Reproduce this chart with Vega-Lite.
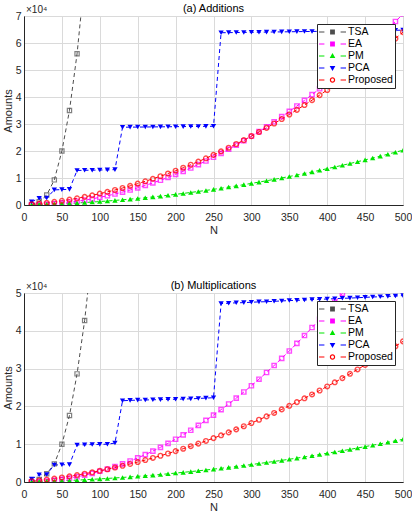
{
  "$schema": "https://vega.github.io/schema/vega-lite/v6.json",
  "padding": {"left": 1, "top": 2, "right": 10, "bottom": 2},
  "spacing": 43,
  "config": {
    "font": "Liberation Sans",
    "view": {"stroke": "#262626", "strokeWidth": 1},
    "axis": {"labelFont": "Liberation Sans", "labelFontSize": 10.5, "labelColor": "#262626", "titleFont": "Liberation Sans", "titleFontSize": 11, "titleFontWeight": "normal", "titleColor": "#262626", "domainColor": "#262626", "ticks": false, "grid": true, "gridColor": "#dadada", "gridOpacity": 1, "labelOverlap": false, "labelFlush": false, "tickCount": 20},
    "title": {"font": "Liberation Sans", "fontSize": 11, "fontWeight": "normal", "color": "#000000", "offset": -9},
    "legend": {"orient": "top-right", "offset": 8, "strokeColor": "#262626", "fillColor": "#ffffff", "padding": 2, "labelFont": "Liberation Sans", "labelFontSize": 10.5, "labelColor": "#000000", "symbolSize": 144, "symbolStrokeWidth": 0, "symbolOpacity": 1, "rowPadding": 0, "labelOffset": 17}
  },
  "data": {"values": [
    {"N":10,"method":"TSA","add":150,"mul":80},{"N":10,"method":"EA","add":28,"mul":28},{"N":10,"method":"PM","add":65,"mul":50},{"N":10,"method":"PCA","add":1200,"mul":800},{"N":10,"method":"Proposed","add":227,"mul":195},
    {"N":20,"method":"TSA","add":1200,"mul":650},{"N":20,"method":"EA","add":113,"mul":113},{"N":20,"method":"PM","add":144,"mul":106},{"N":20,"method":"PCA","add":2500,"mul":1900},{"N":20,"method":"Proposed","add":496,"mul":413},
    {"N":30,"method":"TSA","add":3700,"mul":2200},{"N":30,"method":"EA","add":255,"mul":255},{"N":30,"method":"PM","add":237,"mul":170},{"N":30,"method":"PCA","add":2600,"mul":2000},{"N":30,"method":"Proposed","add":810,"mul":653},
    {"N":40,"method":"TSA","add":9300,"mul":4800},{"N":40,"method":"EA","add":453,"mul":453},{"N":40,"method":"PM","add":343,"mul":242},{"N":40,"method":"PCA","add":5600,"mul":4500},{"N":40,"method":"Proposed","add":1164,"mul":915},
    {"N":50,"method":"TSA","add":20000,"mul":10000},{"N":50,"method":"EA","add":708,"mul":708},{"N":50,"method":"PM","add":464,"mul":320},{"N":50,"method":"PCA","add":5700,"mul":4550},{"N":50,"method":"Proposed","add":1563,"mul":1200},
    {"N":60,"method":"TSA","add":35000,"mul":17600},{"N":60,"method":"EA","add":1019,"mul":1019},{"N":60,"method":"PM","add":599,"mul":406},{"N":60,"method":"PCA","add":5800,"mul":4600},{"N":60,"method":"Proposed","add":2004,"mul":1507},
    {"N":70,"method":"TSA","add":56000,"mul":28600},{"N":70,"method":"EA","add":1387,"mul":1387},{"N":70,"method":"PM","add":747,"mul":498},{"N":70,"method":"PCA","add":12800,"mul":9800},{"N":70,"method":"Proposed","add":2489,"mul":1837},
    {"N":80,"method":"TSA","add":84000,"mul":42700},{"N":80,"method":"EA","add":1811,"mul":1811},{"N":80,"method":"PM","add":909,"mul":598},{"N":80,"method":"PCA","add":12850,"mul":9850},{"N":80,"method":"Proposed","add":3016,"mul":2189},
    {"N":90,"method":"TSA","add":null,"mul":61000},{"N":90,"method":"EA","add":2292,"mul":2292},{"N":90,"method":"PM","add":1086,"mul":706},{"N":90,"method":"PCA","add":12900,"mul":9900},{"N":90,"method":"Proposed","add":3587,"mul":2563},
    {"N":100,"method":"EA","add":2830,"mul":2830},{"N":100,"method":"PM","add":1276,"mul":820},{"N":100,"method":"PCA","add":12950,"mul":9950},{"N":100,"method":"Proposed","add":4200,"mul":2960},
    {"N":110,"method":"EA","add":3424,"mul":3424},{"N":110,"method":"PM","add":1480,"mul":942},{"N":110,"method":"PCA","add":13000,"mul":10000},{"N":110,"method":"Proposed","add":4857,"mul":3379},
    {"N":120,"method":"EA","add":4075,"mul":4075},{"N":120,"method":"PM","add":1698,"mul":1070},{"N":120,"method":"PCA","add":13100,"mul":10300},{"N":120,"method":"Proposed","add":5556,"mul":3821},
    {"N":130,"method":"EA","add":4783,"mul":4783},{"N":130,"method":"PM","add":1930,"mul":1206},{"N":130,"method":"PCA","add":28800,"mul":21500},{"N":130,"method":"Proposed","add":6299,"mul":4285},
    {"N":140,"method":"EA","add":5547,"mul":5547},{"N":140,"method":"PM","add":2176,"mul":1350},{"N":140,"method":"PCA","add":28830,"mul":21600},{"N":140,"method":"Proposed","add":7084,"mul":4771},
    {"N":150,"method":"EA","add":6368,"mul":6368},{"N":150,"method":"PM","add":2436,"mul":1500},{"N":150,"method":"PCA","add":28860,"mul":21650},{"N":150,"method":"Proposed","add":7913,"mul":5280},
    {"N":160,"method":"EA","add":7245,"mul":7245},{"N":160,"method":"PM","add":2710,"mul":1658},{"N":160,"method":"PCA","add":28890,"mul":21700},{"N":160,"method":"Proposed","add":8784,"mul":5811},
    {"N":170,"method":"EA","add":8179,"mul":8179},{"N":170,"method":"PM","add":2997,"mul":1822},{"N":170,"method":"PCA","add":28920,"mul":21750},{"N":170,"method":"Proposed","add":9699,"mul":6365},
    {"N":180,"method":"EA","add":9169,"mul":9169},{"N":180,"method":"PM","add":3299,"mul":1994},{"N":180,"method":"PCA","add":28950,"mul":21800},{"N":180,"method":"Proposed","add":10656,"mul":6941},
    {"N":190,"method":"EA","add":10216,"mul":10216},{"N":190,"method":"PM","add":3615,"mul":2174},{"N":190,"method":"PCA","add":28980,"mul":21850},{"N":190,"method":"Proposed","add":11657,"mul":7539},
    {"N":200,"method":"EA","add":11320,"mul":11320},{"N":200,"method":"PM","add":3944,"mul":2360},{"N":200,"method":"PCA","add":29010,"mul":21900},{"N":200,"method":"Proposed","add":12700,"mul":8160},
    {"N":210,"method":"EA","add":12480,"mul":12480},{"N":210,"method":"PM","add":4287,"mul":2554},{"N":210,"method":"PCA","add":29040,"mul":21950},{"N":210,"method":"Proposed","add":13787,"mul":8803},
    {"N":220,"method":"EA","add":13697,"mul":13697},{"N":220,"method":"PM","add":4645,"mul":2754},{"N":220,"method":"PCA","add":29070,"mul":22000},{"N":220,"method":"Proposed","add":14916,"mul":9469},
    {"N":230,"method":"EA","add":14971,"mul":14971},{"N":230,"method":"PM","add":5016,"mul":2962},{"N":230,"method":"PCA","add":29100,"mul":22100},{"N":230,"method":"Proposed","add":16089,"mul":10157},
    {"N":240,"method":"EA","add":16301,"mul":16301},{"N":240,"method":"PM","add":5401,"mul":3178},{"N":240,"method":"PCA","add":29130,"mul":22200},{"N":240,"method":"Proposed","add":17304,"mul":10867},
    {"N":250,"method":"EA","add":17688,"mul":17688},{"N":250,"method":"PM","add":5800,"mul":3400},{"N":250,"method":"PCA","add":29160,"mul":22300},{"N":250,"method":"Proposed","add":18563,"mul":11600},
    {"N":260,"method":"EA","add":19131,"mul":19131},{"N":260,"method":"PM","add":6213,"mul":3630},{"N":260,"method":"PCA","add":63800,"mul":47200},{"N":260,"method":"Proposed","add":19864,"mul":12355},
    {"N":270,"method":"EA","add":20631,"mul":20631},{"N":270,"method":"PM","add":6640,"mul":3866},{"N":270,"method":"PCA","add":63840,"mul":47300},{"N":270,"method":"Proposed","add":21209,"mul":13133},
    {"N":280,"method":"EA","add":22187,"mul":22187},{"N":280,"method":"PM","add":7081,"mul":4110},{"N":280,"method":"PCA","add":63880,"mul":47400},{"N":280,"method":"Proposed","add":22596,"mul":13933},
    {"N":290,"method":"EA","add":23800,"mul":23800},{"N":290,"method":"PM","add":7535,"mul":4362},{"N":290,"method":"PCA","add":63920,"mul":47450},{"N":290,"method":"Proposed","add":24027,"mul":14755},
    {"N":300,"method":"EA","add":25470,"mul":25470},{"N":300,"method":"PM","add":8004,"mul":4620},{"N":300,"method":"PCA","add":63960,"mul":47550},{"N":300,"method":"Proposed","add":25500,"mul":15600},
    {"N":310,"method":"EA","add":27196,"mul":27196},{"N":310,"method":"PM","add":8487,"mul":4886},{"N":310,"method":"PCA","add":64000,"mul":47650},{"N":310,"method":"Proposed","add":27017,"mul":16467},
    {"N":320,"method":"EA","add":28979,"mul":28979},{"N":320,"method":"PM","add":8983,"mul":5158},{"N":320,"method":"PCA","add":64040,"mul":47700},{"N":320,"method":"Proposed","add":28576,"mul":17357},
    {"N":330,"method":"EA","add":30819,"mul":30819},{"N":330,"method":"PM","add":9493,"mul":5438},{"N":330,"method":"PCA","add":64080,"mul":47800},{"N":330,"method":"Proposed","add":30179,"mul":18269},
    {"N":340,"method":"EA","add":32715,"mul":32715},{"N":340,"method":"PM","add":10018,"mul":5726},{"N":340,"method":"PCA","add":64120,"mul":47900},{"N":340,"method":"Proposed","add":31824,"mul":19203},
    {"N":350,"method":"EA","add":34668,"mul":34668},{"N":350,"method":"PM","add":10556,"mul":6020},{"N":350,"method":"PCA","add":64160,"mul":48000},{"N":350,"method":"Proposed","add":33513,"mul":20160},
    {"N":360,"method":"EA","add":36677,"mul":36677},{"N":360,"method":"PM","add":11108,"mul":6322},{"N":360,"method":"PCA","add":64200,"mul":48050},{"N":360,"method":"Proposed","add":35244,"mul":21139},
    {"N":370,"method":"EA","add":38743,"mul":38743},{"N":370,"method":"PM","add":11674,"mul":6630},{"N":370,"method":"PCA","add":64240,"mul":48150},{"N":370,"method":"Proposed","add":37019,"mul":22141},
    {"N":380,"method":"EA","add":40865,"mul":40865},{"N":380,"method":"PM","add":12254,"mul":6946},{"N":380,"method":"PCA","add":64280,"mul":48250},{"N":380,"method":"Proposed","add":38836,"mul":23165},
    {"N":390,"method":"EA","add":43044,"mul":43044},{"N":390,"method":"PM","add":12848,"mul":7270},{"N":390,"method":"PCA","add":64320,"mul":48350},{"N":390,"method":"Proposed","add":40697,"mul":24211},
    {"N":400,"method":"EA","add":45280,"mul":45280},{"N":400,"method":"PM","add":13456,"mul":7600},{"N":400,"method":"PCA","add":64360,"mul":48400},{"N":400,"method":"Proposed","add":42600,"mul":25280},
    {"N":410,"method":"EA","add":47572,"mul":47572},{"N":410,"method":"PM","add":14078,"mul":7938},{"N":410,"method":"PCA","add":64400,"mul":48500},{"N":410,"method":"Proposed","add":44547,"mul":26371},
    {"N":420,"method":"EA","add":49921,"mul":49921},{"N":420,"method":"PM","add":14713,"mul":8282},{"N":420,"method":"PCA","add":64440,"mul":48600},{"N":420,"method":"Proposed","add":46536,"mul":27485},
    {"N":430,"method":"EA","add":52327,"mul":52327},{"N":430,"method":"PM","add":15363,"mul":8634},{"N":430,"method":"PCA","add":64480,"mul":48650},{"N":430,"method":"Proposed","add":48569,"mul":28621},
    {"N":440,"method":"EA","add":54789,"mul":54789},{"N":440,"method":"PM","add":16026,"mul":8994},{"N":440,"method":"PCA","add":64520,"mul":48750},{"N":440,"method":"Proposed","add":50644,"mul":29779},
    {"N":450,"method":"EA","add":57308,"mul":57308},{"N":450,"method":"PM","add":16704,"mul":9360},{"N":450,"method":"PCA","add":64560,"mul":48850},{"N":450,"method":"Proposed","add":52763,"mul":30960},
    {"N":460,"method":"EA","add":59883,"mul":59883},{"N":460,"method":"PM","add":17395,"mul":9734},{"N":460,"method":"PCA","add":64600,"mul":48950},{"N":460,"method":"Proposed","add":54924,"mul":32163},
    {"N":470,"method":"EA","add":62515,"mul":62515},{"N":470,"method":"PM","add":18101,"mul":10114},{"N":470,"method":"PCA","add":64640,"mul":49000},{"N":470,"method":"Proposed","add":57129,"mul":33389},
    {"N":480,"method":"EA","add":65203,"mul":65203},{"N":480,"method":"PM","add":18820,"mul":10502},{"N":480,"method":"PCA","add":64680,"mul":49100},{"N":480,"method":"Proposed","add":59376,"mul":34637},
    {"N":490,"method":"EA","add":67948,"mul":67948},{"N":490,"method":"PM","add":19553,"mul":10898},{"N":490,"method":"PCA","add":64720,"mul":49200},{"N":490,"method":"Proposed","add":61667,"mul":35907},
    {"N":500,"method":"EA","add":70750,"mul":70750},{"N":500,"method":"PM","add":20300,"mul":11300},{"N":500,"method":"PCA","add":64760,"mul":49300},{"N":500,"method":"Proposed","add":64000,"mul":37200}
  ]},
  "vconcat": [
    {
      "width": 379, "height": 189,
      "title": {"text": "(a) Additions"},
      "layer": [
        {
          "encoding": {
            "x": {"field": "N", "type": "quantitative", "scale": {"domain": [0, 500], "nice": false}, "axis": {"values": [0,50,100,150,200,250,300,350,400,450,500], "tickCount": 20, "title": "N", "titlePadding": 2, "labelPadding": 7, "grid": true, "labelOverlap": false, "labelFlush": false}},
            "y": {"field": "add", "type": "quantitative", "scale": {"domain": [0, 70000], "nice": false}, "axis": {"values": [0,10000,20000,30000,40000,50000,60000,70000], "tickCount": 20, "labelExpr": "datum.value / 10000", "title": "Amounts", "titlePadding": 2, "labelPadding": 3, "grid": true, "labelOverlap": false, "labelFlush": false}}
          },
          "layer": [
            {
              "mark": {"type": "line", "strokeDash": [4, 3], "strokeWidth": 1, "clip": true},
              "encoding": {
                "stroke": {"field": "method", "type": "nominal", "scale": {"domain": ["Proposed","PCA","PM","EA","TSA"], "range": ["#ff0000","#0000ff","#00e600","#ff00ff","#4d4d4d"]}, "legend": null}
              }
            },
            {"transform": [{"filter": "datum.method === 'TSA'"}], "mark": {"type": "point", "shape": "square", "filled": false, "size": 18, "strokeWidth": 1.2, "color": "#4d4d4d", "clip": true}},
            {"transform": [{"filter": "datum.method === 'EA'"}], "mark": {"type": "point", "shape": "square", "filled": false, "size": 18, "strokeWidth": 1.4, "color": "#ff00ff", "clip": true}},
            {"transform": [{"filter": "datum.method === 'PM'"}], "mark": {"type": "point", "shape": "triangle-up", "filled": true, "size": 28, "opacity": 1, "color": "#00e600", "clip": true}},
            {"transform": [{"filter": "datum.method === 'PCA'"}], "mark": {"type": "point", "shape": "triangle-down", "filled": true, "size": 28, "opacity": 1, "color": "#0000ff", "clip": true}},
            {"transform": [{"filter": "datum.method === 'Proposed'"}], "mark": {"type": "point", "shape": "circle", "filled": false, "size": 22, "strokeWidth": 1.4, "color": "#ff0000", "clip": true}},
            {
              "transform": [{"filter": "datum.N < 0"}],
              "mark": {"type": "point", "filled": true, "clip": true},
              "encoding": {
                "color": {"field": "method", "type": "nominal", "scale": {"domain": ["TSA","EA","PM","PCA","Proposed"], "range": ["#4d4d4d","#ff00ff","#00e600","#0000ff","#ff0000"]}, "legend": {"title": null}},
                "shape": {"field": "method", "type": "nominal", "scale": {"domain": ["TSA","EA","PM","PCA","Proposed"], "range": [
                  "M-1,-0.09H-0.1V0.09H-1Z M2.6,-0.09H3.5V0.09H2.6Z M0.85,-0.4H1.65V0.4H0.85Z",
                  "M-1,-0.09H-0.1V0.09H-1Z M2.6,-0.09H3.5V0.09H2.6Z M0.85,-0.4H1.65V0.4H0.85Z",
                  "M-1,-0.09H-0.1V0.09H-1Z M2.6,-0.09H3.5V0.09H2.6Z M1.25,-0.5L1.72,0.35L0.78,0.35Z",
                  "M-1,-0.09H-0.1V0.09H-1Z M2.6,-0.09H3.5V0.09H2.6Z M1.25,0.5L1.72,-0.35L0.78,-0.35Z",
                  "M-1,-0.09H-0.1V0.09H-1Z M2.6,-0.09H3.5V0.09H2.6Z M1.7,0A0.45,0.45 0 1,1 0.8,0A0.45,0.45 0 1,1 1.7,0Z M1.5,0A0.25,0.25 0 1,0 1,0A0.25,0.25 0 1,0 1.5,0Z"
                ]}, "legend": {"title": null}}
              }
            }
          ]
        },
        {
          "data": {"values": [{}]},
          "mark": {"type": "text", "text": "×10⁴", "align": "left", "baseline": "bottom", "dx": 2, "dy": -1, "fontSize": 10, "color": "#262626", "font": "Liberation Sans"},
          "encoding": {
            "x": {"datum": 0, "type": "quantitative", "axis": {"values": [0,50,100,150,200,250,300,350,400,450,500], "tickCount": 20, "title": "N", "titlePadding": 2, "labelPadding": 7, "grid": true, "labelOverlap": false, "labelFlush": false}},
            "y": {"datum": 70000, "type": "quantitative", "axis": {"values": [0,10000,20000,30000,40000,50000,60000,70000], "tickCount": 20, "labelExpr": "datum.value / 10000", "title": "Amounts", "titlePadding": 2, "labelPadding": 3, "grid": true, "labelOverlap": false, "labelFlush": false}}
          }
        }
      ]
    },
    {
      "width": 379, "height": 189,
      "title": {"text": "(b) Multiplications"},
      "layer": [
        {
          "encoding": {
            "x": {"field": "N", "type": "quantitative", "scale": {"domain": [0, 500], "nice": false}, "axis": {"values": [0,50,100,150,200,250,300,350,400,450,500], "tickCount": 20, "title": "N", "titlePadding": 2, "labelPadding": 7, "grid": true, "labelOverlap": false, "labelFlush": false}},
            "y": {"field": "mul", "type": "quantitative", "scale": {"domain": [0, 50000], "nice": false}, "axis": {"values": [0,10000,20000,30000,40000,50000], "tickCount": 20, "labelExpr": "datum.value / 10000", "title": "Amounts", "titlePadding": 2, "labelPadding": 3, "grid": true, "labelOverlap": false, "labelFlush": false}}
          },
          "layer": [
            {
              "mark": {"type": "line", "strokeDash": [4, 3], "strokeWidth": 1, "clip": true},
              "encoding": {
                "stroke": {"field": "method", "type": "nominal", "scale": {"domain": ["Proposed","PCA","PM","EA","TSA"], "range": ["#ff0000","#0000ff","#00e600","#ff00ff","#4d4d4d"]}, "legend": null}
              }
            },
            {"transform": [{"filter": "datum.method === 'TSA'"}], "mark": {"type": "point", "shape": "square", "filled": false, "size": 18, "strokeWidth": 1.2, "color": "#4d4d4d", "clip": true}},
            {"transform": [{"filter": "datum.method === 'EA'"}], "mark": {"type": "point", "shape": "square", "filled": false, "size": 18, "strokeWidth": 1.4, "color": "#ff00ff", "clip": true}},
            {"transform": [{"filter": "datum.method === 'PM'"}], "mark": {"type": "point", "shape": "triangle-up", "filled": true, "size": 28, "opacity": 1, "color": "#00e600", "clip": true}},
            {"transform": [{"filter": "datum.method === 'PCA'"}], "mark": {"type": "point", "shape": "triangle-down", "filled": true, "size": 28, "opacity": 1, "color": "#0000ff", "clip": true}},
            {"transform": [{"filter": "datum.method === 'Proposed'"}], "mark": {"type": "point", "shape": "circle", "filled": false, "size": 22, "strokeWidth": 1.4, "color": "#ff0000", "clip": true}},
            {
              "transform": [{"filter": "datum.N < 0"}],
              "mark": {"type": "point", "filled": true, "clip": true},
              "encoding": {
                "color": {"field": "method", "type": "nominal", "scale": {"domain": ["TSA","EA","PM","PCA","Proposed"], "range": ["#4d4d4d","#ff00ff","#00e600","#0000ff","#ff0000"]}, "legend": {"title": null}},
                "shape": {"field": "method", "type": "nominal", "scale": {"domain": ["TSA","EA","PM","PCA","Proposed"], "range": [
                  "M-1,-0.09H-0.1V0.09H-1Z M2.6,-0.09H3.5V0.09H2.6Z M0.85,-0.4H1.65V0.4H0.85Z",
                  "M-1,-0.09H-0.1V0.09H-1Z M2.6,-0.09H3.5V0.09H2.6Z M0.85,-0.4H1.65V0.4H0.85Z",
                  "M-1,-0.09H-0.1V0.09H-1Z M2.6,-0.09H3.5V0.09H2.6Z M1.25,-0.5L1.72,0.35L0.78,0.35Z",
                  "M-1,-0.09H-0.1V0.09H-1Z M2.6,-0.09H3.5V0.09H2.6Z M1.25,0.5L1.72,-0.35L0.78,-0.35Z",
                  "M-1,-0.09H-0.1V0.09H-1Z M2.6,-0.09H3.5V0.09H2.6Z M1.7,0A0.45,0.45 0 1,1 0.8,0A0.45,0.45 0 1,1 1.7,0Z M1.5,0A0.25,0.25 0 1,0 1,0A0.25,0.25 0 1,0 1.5,0Z"
                ]}, "legend": {"title": null}}
              }
            }
          ]
        },
        {
          "data": {"values": [{}]},
          "mark": {"type": "text", "text": "×10⁴", "align": "left", "baseline": "bottom", "dx": 2, "dy": -1, "fontSize": 10, "color": "#262626", "font": "Liberation Sans"},
          "encoding": {
            "x": {"datum": 0, "type": "quantitative", "axis": {"values": [0,50,100,150,200,250,300,350,400,450,500], "tickCount": 20, "title": "N", "titlePadding": 2, "labelPadding": 7, "grid": true, "labelOverlap": false, "labelFlush": false}},
            "y": {"datum": 50000, "type": "quantitative", "axis": {"values": [0,10000,20000,30000,40000,50000], "tickCount": 20, "labelExpr": "datum.value / 10000", "title": "Amounts", "titlePadding": 2, "labelPadding": 3, "grid": true, "labelOverlap": false, "labelFlush": false}}
          }
        }
      ]
    }
  ],
  "resolve": {"scale": {"color": "independent", "shape": "independent", "stroke": "independent"}, "legend": {"color": "independent", "shape": "independent"}}
}
